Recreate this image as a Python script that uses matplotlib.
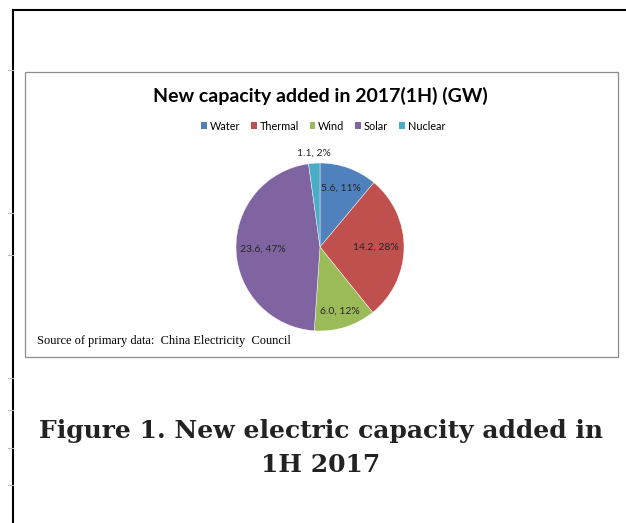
import matplotlib
matplotlib.use("Agg")
import matplotlib.pyplot as plt
from matplotlib.patches import Rectangle
from matplotlib.lines import Line2D
import numpy as np

categories = ["Water", "Thermal", "Wind", "Solar", "Nuclear"]
values = [5.6, 14.2, 6.0, 23.6, 1.1]
colors = ["#4F81BD", "#C0504D", "#9BBB59", "#8064A2", "#4BACC6"]
title = "New capacity added in 2017(1H) (GW)"
source = "Source of primary data:  China Electricity  Council"
caption = "Figure 1. New electric capacity added in\n1H 2017"

W, H = 626, 523
fig = plt.figure(figsize=(W / 100, H / 100), dpi=100)
fig.patch.set_facecolor("white")

def px(x, y):
    return x / W, 1 - y / H

# outer frame lines
fig.add_artist(Line2D([13 / W, 1.0], [1 - 10 / H] * 2, color="black", lw=1.5, transform=fig.transFigure))
fig.add_artist(Line2D([13 / W] * 2, [0, 1 - 10 / H], color="black", lw=1.5, transform=fig.transFigure))
for yy in [70, 213, 255, 378, 410, 448, 485]:
    fig.add_artist(Line2D([8 / W, 13 / W], [1 - yy / H] * 2, color="#bbbbbb", lw=0.8, transform=fig.transFigure))

# chart box
fig.add_artist(Rectangle((25 / W, 1 - 357 / H), (618 - 25) / W, (357 - 72) / H,
                         transform=fig.transFigure, fill=False, edgecolor="#8c8c8c", lw=0.9))

# pie
cx, cy, r = 320, 247, 84
ax = fig.add_axes([(cx - r) / W, 1 - (cy + r) / H, 2 * r / W, 2 * r / H])
wedges, _ = ax.pie(values, colors=colors, startangle=90, counterclock=False,
                   wedgeprops=dict(linewidth=0.3, edgecolor="white"))
ax.set_xlim(-1, 1)
ax.set_ylim(-1, 1)
ax.set_aspect("equal")
ax.axis("off")

total = sum(values)
label_r = [0.74, 0.66, 0.8, 0.68, 1.12]
for w, v, lr in zip(wedges, values, label_r):
    ang = np.deg2rad((w.theta1 + w.theta2) / 2)
    x, y = lr * np.cos(ang), lr * np.sin(ang)
    ax.text(x, y, f"{v:.1f}, {v / total * 100:.0f}%", ha="center", va="center",
            fontsize=7.5, family="Lato", color="#262626", clip_on=False)

# title
fig.text(*px(320, 96), title, ha="center", va="center", fontsize=14,
         fontweight="bold", family="Lato", color="black")

# legend
handles = [Rectangle((0, 0), 1, 1, facecolor=c, edgecolor="none") for c in colors]
leg = fig.legend(handles, categories, loc="center", bbox_to_anchor=px(323, 126), ncol=5,
                 frameon=False, prop=dict(family="Lato", size=7.8), handlelength=0.55,
                 handleheight=0.55, handletextpad=0.25, columnspacing=1.0)

# source
fig.text(*px(37, 341), source, ha="left", va="center", fontsize=8.9,
         family="Liberation Serif", color="black")

# caption
fig.text(*px(321, 448), caption, ha="center", va="center", fontsize=18,
         fontweight="bold", family="DejaVu Serif", color="#222222", linespacing=1.5)

fig.savefig("out.png", dpi=100, facecolor="white")
